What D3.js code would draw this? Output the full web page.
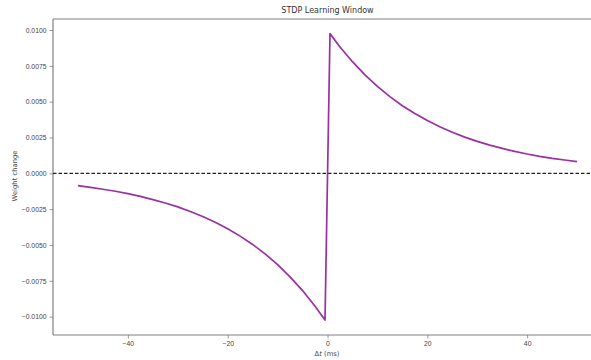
<!DOCTYPE html>
<html>
<head>
<meta charset="utf-8">
<script src="https://cdn.jsdelivr.net/npm/d3@7"></script>
<style>
  html, body { margin: 0; padding: 0; background: #fff; overflow: hidden; }
  svg { display: block; font-family: "DejaVu Sans", sans-serif; }
</style>
</head>
<body>
<svg id="chart" width="591" height="360"></svg>
<script>
// values
const dtNeg = [-50, -47.5, -45, -42.5, -40, -37.5, -35, -32.5, -30, -27.5, -25,
               -22.5, -20, -17.5, -15, -12.5, -10, -7.5, -5, -2.5, -0.5];
const dwNeg = [-0.00086, -0.00098, -0.00111, -0.00125, -0.00142, -0.00161, -0.00183,
               -0.00207, -0.00234, -0.00266, -0.00301, -0.00341, -0.00386, -0.00438,
               -0.00496, -0.00562, -0.00637, -0.00722, -0.00818, -0.00927, -0.01024];
const dtPos = [0.5, 2.5, 5, 7.5, 10, 12.5, 15, 17.5, 20, 22.5, 25, 27.5, 30,
               32.5, 35, 37.5, 40, 42.5, 45, 47.5, 50];
const dwPos = [0.00975, 0.00882, 0.00779, 0.00687, 0.00607, 0.00535, 0.00472,
               0.00417, 0.00368, 0.00325, 0.00287, 0.00253, 0.00223, 0.00197,
               0.00174, 0.00153, 0.00135, 0.00119, 0.00105, 0.00093, 0.00082];
const xTicks = [-40, -20, 0, 20, 40];
const yTicks = [-0.01, -0.0075, -0.005, -0.0025, 0, 0.0025, 0.005, 0.0075, 0.01];

const margin = {left: 53, top: 19, right: 602, bottom: 335};
const svg = d3.select('#chart');

let x = d3.scaleLinear().domain([-55, 55]).range([margin.left, margin.right]);
let y = d3.scaleLinear().domain([-0.01128, 0.01077]).range([margin.bottom, margin.top]);

const minus = s => s.replace('-', '\u2212');

// axes
let xAxis = svg.append('g')
    .attr('transform', 'translate(0,' + margin.bottom + ')')
    .call(d3.axisBottom(x).tickValues(xTicks).tickSize(3.5).tickPadding(3)
        .tickFormat(d => minus(d3.format('d')(d))));
let yAxis = svg.append('g')
    .attr('transform', 'translate(' + margin.left + ',0)')
    .call(d3.axisLeft(y).tickValues(yTicks).tickSize(3.5).tickPadding(3)
        .tickFormat(d => minus(d3.format('.4f')(d))));

[xAxis, yAxis].forEach(function (a) {
    a.select('.domain').attr('stroke', '#808080').attr('stroke-width', 1.2);
    a.selectAll('.tick line').attr('stroke', '#808080').attr('stroke-width', 0.8);
    a.selectAll('.tick text').attr('fill', '#444').style('font-size', '6.8px');
});
xAxis.select('.domain').attr('d', 'M' + margin.left + ',0H' + margin.right);
yAxis.select('.domain').attr('d', 'M0,' + margin.bottom + 'V' + margin.top);

// top spine
svg.append('line')
    .attr('x1', margin.left).attr('x2', margin.right)
    .attr('y1', margin.top).attr('y2', margin.top)
    .attr('stroke', '#808080').attr('stroke-width', 1.2);

// zero line
svg.append('line')
    .attr('x1', margin.left).attr('x2', margin.right)
    .attr('y1', y(0)).attr('y2', y(0))
    .attr('stroke', '#222').attr('stroke-width', 1.2)
    .attr('stroke-dasharray', '3.5,2');

// curve
let pts = dtNeg.map((d, i) => [d, dwNeg[i]])
    .concat(dtPos.map((d, i) => [d, dwPos[i]]));
svg.append('path')
    .datum(pts)
    .attr('fill', 'none')
    .attr('stroke', '#9b2fa3')
    .attr('stroke-width', 1.7)
    .attr('stroke-linejoin', 'round')
    .attr('d', d3.line().x(d => x(d[0])).y(d => y(d[1])));

// labels
svg.append('text')
    .attr('x', 327.5).attr('y', 13)
    .attr('text-anchor', 'middle')
    .style('font-size', '8px').attr('fill', '#333')
    .text('STDP Learning Window');

let xl = svg.append('text')
    .attr('x', 327).attr('y', 356)
    .attr('text-anchor', 'middle')
    .style('font-size', '6.8px').attr('fill', '#444');
xl.append('tspan').text('\u0394');
xl.append('tspan').style('font-style', 'italic').text('t');
xl.append('tspan').text(' (ms)');

svg.append('text')
    .attr('transform', 'translate(17,176) rotate(-90)')
    .attr('text-anchor', 'middle')
    .style('font-size', '6.8px').attr('fill', '#444')
    .text('Weight change');
</script>
</body>
</html>
